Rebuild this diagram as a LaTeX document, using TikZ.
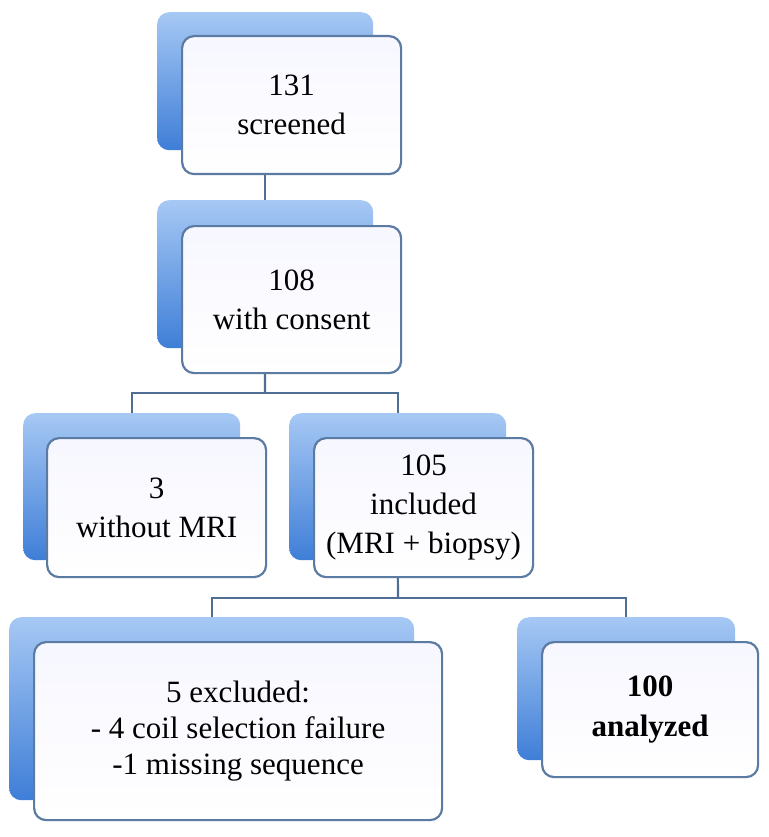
\documentclass[tikz,border=0pt]{standalone}
\usepackage{fontspec}
\setmainfont{Liberation Serif}
\definecolor{shTop}{HTML}{A6C8F4}
\definecolor{shBot}{HTML}{3F7ED7}
\definecolor{frameC}{HTML}{5C7BA3}
\definecolor{fillC}{HTML}{F4F7FC}
\definecolor{lineC}{HTML}{4E6E94}
\begin{document}
\begin{tikzpicture}[x=1pt,y=-1pt,
  shadowbox/.style={rounded corners=12pt, top color=shTop, bottom color=shBot, draw=none, inner sep=0pt, anchor=north west},
  frontbox/.style={rounded corners=12pt, draw=frameC, line width=2.2pt, top color=fillC!70!blue!10, bottom color=white, inner sep=0pt, anchor=north west, align=center, font=\fontsize{31}{39}\selectfont},
  conn/.style={draw=lineC, line width=2.2pt}]
\useasboundingbox[fill=white] (0,0) rectangle (768,837);
% shadows
\node[shadowbox, minimum width=216pt, minimum height=138pt] (s1) at (157,12) {};
\node[shadowbox, minimum width=216pt, minimum height=148pt] (s2) at (157,200) {};
\node[shadowbox, minimum width=217pt, minimum height=147pt] (s3) at (23,413) {};
\node[shadowbox, minimum width=217pt, minimum height=147pt] (s4) at (289,413) {};
\node[shadowbox, minimum width=405pt, minimum height=183pt] (s5) at (9,617) {};
\node[shadowbox, minimum width=218pt, minimum height=143pt] (s6) at (517,617) {};
% connectors
\coordinate (j1) at (265,393);
\coordinate (j2) at (398,598);
\draw[conn] (s1.south) -- (s2.north);
\draw[conn] (s2.south) -- (j1);
\draw[conn] (s3.north) |- (j1) -| (s4.north);
\draw[conn] (s4.south) -- (j2);
\draw[conn] (s5.north) |- (j2) -| (s6.north);
% front boxes
\node[frontbox, minimum width=219pt, minimum height=138pt] (b1) at (181,35) {131\\screened};
\node[frontbox, minimum width=219pt, minimum height=147pt] (b2) at (181,225) {108\\with consent};
\node[frontbox, minimum width=219pt, minimum height=139pt] (b3) at (46,437) {3\\without MRI};
\node[frontbox, minimum width=219pt, minimum height=139pt] (b4) at (313,437) {105\\included\\(MRI + biopsy)};
\node[frontbox, minimum width=408pt, minimum height=178pt, font=\fontsize{31}{36}\selectfont] (b5) at (33,641) {5 excluded:\\- 4 coil selection failure\\-1 missing sequence};
\node[frontbox, minimum width=216pt, minimum height=135pt, font=\fontsize{31}{40}\selectfont\bfseries] (b6) at (541,641) {100\\analyzed};
\end{tikzpicture}
\end{document}
